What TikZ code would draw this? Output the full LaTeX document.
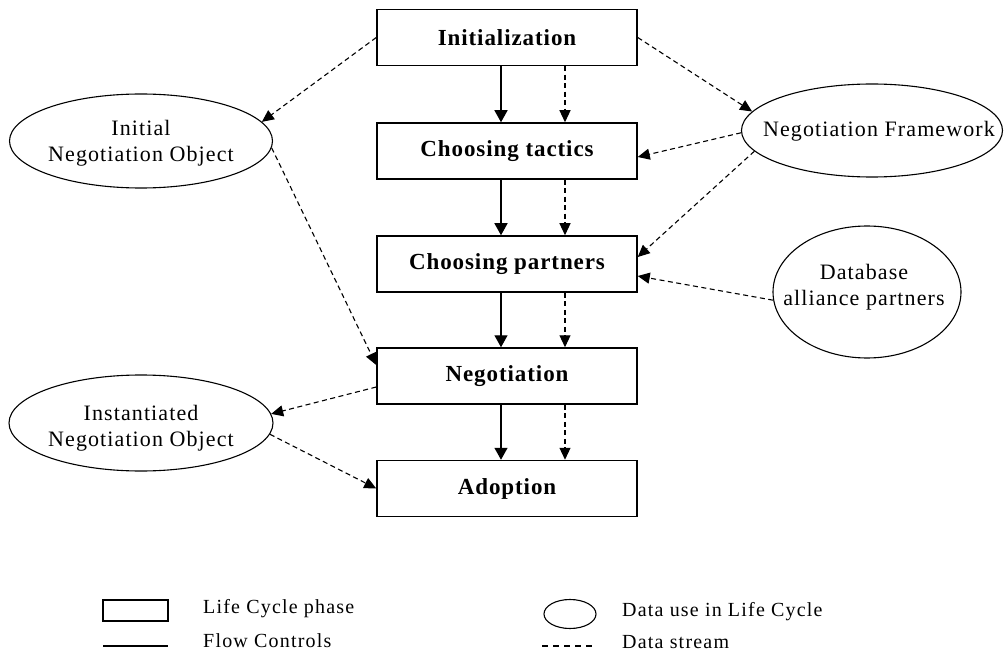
\documentclass[tikz,border=0pt]{standalone}
\usepackage{fontspec}
\setmainfont{Liberation Serif}
\usetikzlibrary{arrows.meta,shapes.geometric}
\begin{document}
\begin{tikzpicture}[x=1pt,y=-1pt,
  phase/.style={draw, line width=1.5pt, minimum width=260pt, minimum height=56pt, inner sep=0pt,
    font=\fontsize{23}{26}\selectfont\bfseries\addfontfeature{LetterSpace=4}},
  dataell/.style={draw, ellipse, line width=1.1pt, inner sep=0pt},
  dtext/.style={font=\fontsize{22}{26}\selectfont\addfontfeature{LetterSpace=5}, align=center, inner sep=0pt},
  flow/.style={line width=1.4pt, -{Triangle[length=12pt,width=13pt]}},
  stream/.style={line width=1.1pt, dash pattern=on 5pt off 3.5pt, -{Triangle[length=12pt,width=11pt]}},
  legtext/.style={font=\fontsize{20}{24}\selectfont\addfontfeature{LetterSpace=6}, anchor=west, inner sep=0pt}]
\path[fill=white] (0,0) rectangle (1004,655);
\useasboundingbox (0,0) rectangle (1004,655);

% phases
\node[phase] (init)  at (507,37.5)  {Initialization};
\node[phase] (tact)  at (507,151)   {Choosing tactics};
\node[phase] (part)  at (507,264)   {Choosing partners};
\node[phase] (neg)   at (507,376)   {Negotiation};
\node[phase] (adopt) at (507,488.5) {Adoption};

% data ellipses
\node[dataell, minimum width=263pt, minimum height=94pt]  (ino)  at (141,141) {};
\node[dtext] (inotxt) at (141,143) {Initial\\Negotiation Object};
\node[dataell, minimum width=261pt, minimum height=93pt]  (nf)   at (872,130.5) {};
\node[dtext] (nftxt) at (879,131) {Negotiation Framework};
\node[dataell, minimum width=188pt, minimum height=132pt] (db)   at (867,292) {};
\node[dtext] (dbtxt) at (864,287) {Database\\alliance partners};
\node[dataell, minimum width=264pt, minimum height=96pt]  (inst) at (141,423) {};
\node[dtext] (insttxt) at (141,428) {Instantiated\\Negotiation Object};

% flow controls
\draw[flow] ([xshift=-6pt]init.south) -- ([xshift=-6pt]tact.north);
\draw[flow] ([xshift=-6pt]tact.south) -- ([xshift=-6pt]part.north);
\draw[flow] ([xshift=-6pt]part.south) -- ([xshift=-6pt]neg.north);
\draw[flow] ([xshift=-6pt]neg.south)  -- ([xshift=-6pt]adopt.north);

% data streams between phases
\draw[stream] ([xshift=58pt]init.south) -- ([xshift=58pt]tact.north);
\draw[stream] ([xshift=58pt]tact.south) -- ([xshift=58pt]part.north);
\draw[stream] ([xshift=58pt]part.south) -- ([xshift=58pt]neg.north);
\draw[stream] ([xshift=58pt]neg.south)  -- ([xshift=58pt]adopt.north);

% data streams to/from data
\draw[stream] (init.west) -- (ino.9);
\draw[stream] (init.east) -- (nf.171);
\draw[stream] (nf.181) -- ([yshift=-6pt]tact.east);
\draw[stream] (nf.190) -- ([yshift=7pt]part.east);
\draw[stream] (db.185) -- ([yshift=-12pt]part.east);
\draw[stream] (ino.-3) -- ([yshift=11pt]neg.west);
\draw[stream] ([yshift=-11pt]neg.west) -- (inst.4);
\draw[stream] (inst.-5) -- (adopt.west);

% legend
\node[draw, line width=1.4pt, minimum width=65pt, minimum height=21pt, inner sep=0pt] (legrect) at (135.5,610.5) {};
\node[legtext] (legrecttxt) at (203,609) {Life Cycle phase};
\coordinate (fla) at (103,646);
\coordinate (flb) at (168,646);
\draw[line width=1.4pt] (fla) -- (flb);
\node[legtext] (flowtxt) at (203,641) {Flow Controls};
\node[dataell, minimum width=52pt, minimum height=29pt] (legell) at (570,614) {};
\node[legtext] (legelltxt) at (622,612) {Data use in Life Cycle};
\coordinate (dsa) at (542,646);
\coordinate (dsb) at (595,646);
\draw[line width=1.1pt, dash pattern=on 6pt off 5pt] (dsa) -- (dsb);
\node[legtext] (streamtxt) at (622,642) {Data stream};
\end{tikzpicture}
\end{document}
